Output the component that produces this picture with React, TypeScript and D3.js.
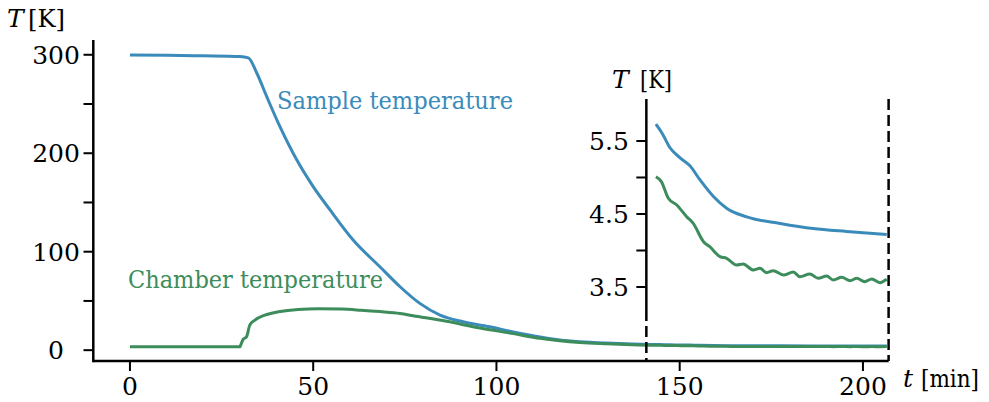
import React from "react";
import * as d3 from "d3";

const sampleTime = [0, 10, 20, 30, 32.3, 34.6, 37.3, 40.9, 45.5, 50, 54.6, 60.9, 68.2, 73.7, 79.1, 84.6, 90.9, 98.2, 104.6, 111.9, 117.3, 122.8, 130, 137,
  143.5, 145.5, 147.3, 150.1, 152.8, 155.5, 159.2, 162.8, 168.3, 177.4, 186.4, 195.5, 206.5];
const sampleTemp = [299.8, 299.4, 298.9, 298.2, 296.8, 281.5, 257.7, 227.2, 193.3, 166.1, 142.4, 111.9, 84.7, 64.4, 47.5, 35.6, 28.8, 23.7, 18.6, 13.5, 10.4, 8.6, 7.2, 6.3,
  5.73, 5.58, 5.41, 5.27, 5.16, 4.97, 4.74, 4.58, 4.46, 4.37, 4.30, 4.26, 4.22];

const chamberTime = [0, 10, 20, 30, 30.4, 30.9, 31.8, 32.7, 34.1, 36.8, 40.5, 45.9, 51.4, 57.8, 63, 68.2, 73.7, 77.3, 86.4, 95.5, 104.6, 111.9, 117.3, 122.8, 130, 137,
  143.5, 145.0, 146.9, 149.2, 151.9, 153.7, 156.5, 158.2, 161.0, 162.8, 165.5, 167.3, 170.1, 171.9, 173.7, 175.5, 178.3, 181.0, 182.8, 185.5, 187.8, 190.1, 191.9, 194.2, 196.5, 198.3, 200.5, 202.4, 204.6, 206.5];
const chamberTemp = [3.4, 3.4, 3.4, 3.4, 7, 10.9, 13.5, 25.4, 30.5, 35.6, 39, 41.4, 42, 41.7, 40.6, 39.2, 37.3, 35, 29.3, 22.5, 16.8, 12, 9.6, 7.9, 6.6, 5.6,
  5.01, 4.943, 4.715, 4.623, 4.463, 4.372, 4.121, 4.052, 3.916, 3.893, 3.801, 3.815, 3.733, 3.756, 3.696, 3.724, 3.664, 3.705, 3.641, 3.678, 3.619, 3.651, 3.596, 3.632, 3.587, 3.619, 3.573, 3.610, 3.559, 3.605];

const xTicks = [0, 50, 100, 150, 200];
const yTicks = [0, 50, 100, 150, 200, 250, 300];
const yTickLabels = ["0", "", "100", "", "200", "", "300"];
const insetTicks = [3.5, 4.0, 4.5, 5.0, 5.5];
const insetTickLabels = ["3.5", "", "4.5", "", "5.5"];

const BLUE = "#3b8bba";
const GREEN = "#3d8d5c";
const FONT = "DejaVu Serif, Liberation Serif, serif";

export default function App() {
  const W = 989, H = 402;
  const x = d3.scaleLinear().domain([-10, 207]).range([93.3, 888.6]);
  const y = d3.scaleLinear().domain([-11, 315]).range([361, 40]);
  const yi = d3.scaleLinear().domain([3.185, 6.075]).range([310, 99]);

  const sample = sampleTime.map((t, i) => [t, sampleTemp[i]] as [number, number]);
  const chamber = chamberTime.map((t, i) => [t, chamberTemp[i]] as [number, number]);

  const mainLine = d3.line<[number, number]>().x(d => x(d[0])).y(d => y(d[1])).curve(d3.curveMonotoneX);
  const insetLine = d3.line<[number, number]>().x(d => x(d[0])).y(d => yi(d[1])).curve(d3.curveMonotoneX);

  const insetStart = 143.5;
  const sampleIn = sample.filter(d => d[0] >= insetStart);
  const chamberIn = chamber.filter(d => d[0] >= insetStart);

  const insetX = x(140.9);
  const rightX = x(207);
  const ts = { fontFamily: FONT, fontSize: "25px" } as React.CSSProperties;
  const tsi = { fontFamily: FONT, fontSize: "25px", fontStyle: "italic" } as React.CSSProperties;

  return (
    <svg width={W} height={H} style={{ position: "absolute", left: 0, top: 0, background: "#fff" }}>
      <rect x={0} y={0} width={W} height={H} fill="#fff" />
      <path d={mainLine(sample) || ""} fill="none" stroke={BLUE} strokeWidth={3} strokeLinejoin="round" />
      <path d={mainLine(chamber) || ""} fill="none" stroke={GREEN} strokeWidth={3} strokeLinejoin="round" />

      <line x1={x(-10)} x2={x(207)} y1={361} y2={361} stroke="#000" strokeWidth={2.5} />
      <line x1={93.3} x2={93.3} y1={40} y2={362.2} stroke="#000" strokeWidth={2.5} />
      {xTicks.map(t => (
        <g key={"xt" + t}>
          <line x1={x(t)} x2={x(t)} y1={361} y2={371} stroke="#000" strokeWidth={2} />
          <text x={x(t)} y={395} textAnchor="middle" style={ts}>{t}</text>
        </g>
      ))}
      {yTicks.map((v, i) => (
        <g key={"yt" + v}>
          <line x1={83.5} x2={93.3} y1={y(v)} y2={y(v)} stroke="#000" strokeWidth={2} />
          {yTickLabels[i] && (
            <text x={56} y={y(v)} dy="0.36em" textAnchor="middle" style={ts}>{yTickLabels[i]}</text>
          )}
        </g>
      ))}
      <text x={7} y={27} style={tsi}>T</text>
      <text x={28} y={27} style={ts} textLength={37} lengthAdjust="spacingAndGlyphs">[K]</text>
      <text x={903} y={387} style={tsi}>t</text>
      <text x={921} y={387} style={ts} textLength={58} lengthAdjust="spacingAndGlyphs">[min]</text>

      <text x={277} y={109} style={ts} fill={BLUE} textLength={236} lengthAdjust="spacingAndGlyphs">Sample temperature</text>
      <text x={128} y={288} style={ts} fill={GREEN} textLength={255} lengthAdjust="spacingAndGlyphs">Chamber temperature</text>

      <path d={insetLine(sampleIn) || ""} fill="none" stroke={BLUE} strokeWidth={3} strokeLinejoin="round" />
      <path d={insetLine(chamberIn) || ""} fill="none" stroke={GREEN} strokeWidth={3} strokeLinejoin="round" />
      <line x1={insetX} x2={insetX} y1={99} y2={310} stroke="#000" strokeWidth={2.5} />
      <line x1={insetX} x2={insetX} y1={310} y2={361} stroke="#000" strokeWidth={2.5} strokeDasharray="11,5" />
      <line x1={rightX} x2={rightX} y1={99} y2={361} stroke="#000" strokeWidth={2.5} strokeDasharray="11,5" />
      {insetTicks.map((v, i) => (
        <g key={"it" + v}>
          <line x1={insetX - 10} x2={insetX} y1={yi(v)} y2={yi(v)} stroke="#000" strokeWidth={2} />
          {insetTickLabels[i] && (
            <text x={609} y={yi(v)} dy="0.36em" textAnchor="middle" style={ts}>{insetTickLabels[i]}</text>
          )}
        </g>
      ))}
      <text x={612} y={88} style={tsi}>T</text>
      <text x={640} y={88} style={ts} textLength={32} lengthAdjust="spacingAndGlyphs">[K]</text>
    </svg>
  );
}
